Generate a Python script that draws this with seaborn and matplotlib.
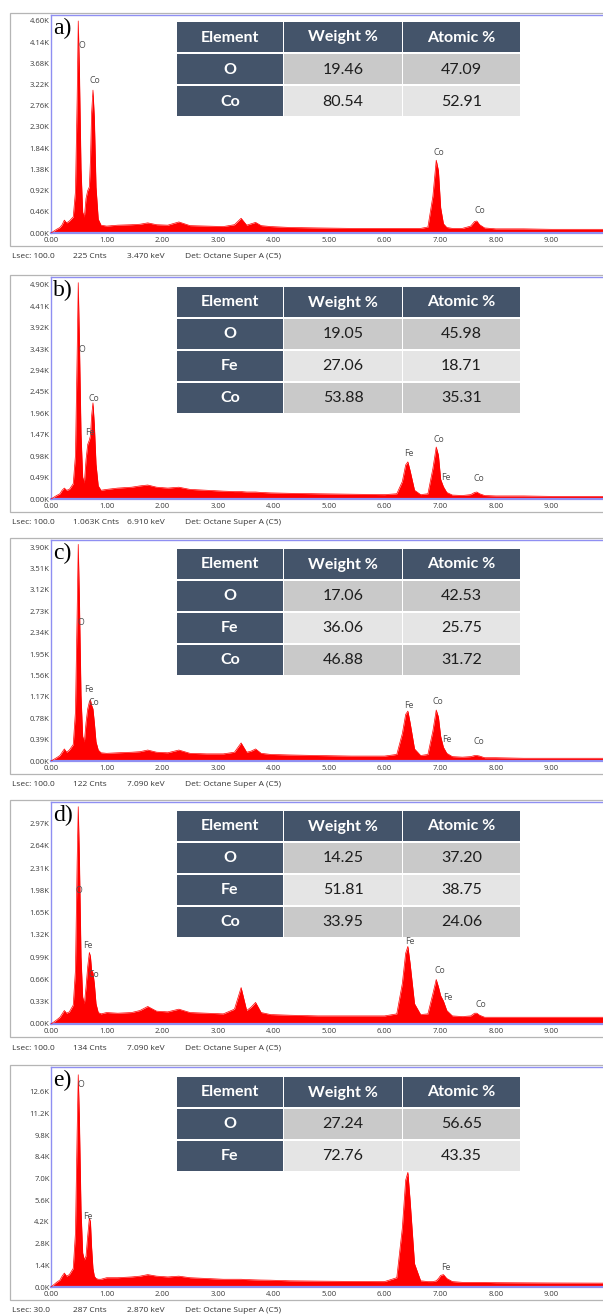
import numpy as np
import pandas as pd
import seaborn as sns
import matplotlib.pyplot as plt
from matplotlib.patches import Rectangle

# --- DATA ---
energy = [0.00, 0.10, 0.16, 0.20, 0.24, 0.28, 0.33, 0.40, 0.44, 0.47,
          0.49, 0.51, 0.54, 0.57, 0.60, 0.63, 0.66, 0.69, 0.71, 0.73,
          0.755, 0.78, 0.81, 0.85, 0.90, 1.00, 1.20, 1.45, 1.60, 1.74,
          1.90, 2.10, 2.30, 2.50, 2.80, 3.10, 3.30, 3.42, 3.52, 3.60,
          3.68, 3.78, 3.95, 4.30, 4.80, 5.40, 6.00, 6.22, 6.32, 6.38,
          6.42, 6.46, 6.54, 6.65, 6.78, 6.87, 6.93, 6.97, 7.01, 7.06,
          7.12, 7.22, 7.40, 7.55, 7.62, 7.66, 7.71, 7.80, 8.00, 8.50,
          9.00, 9.93]

# counts in K
counts_a = [0.00, 0.08, 0.12, 0.18, 0.28, 0.22, 0.26, 0.35, 0.90, 2.90,
            4.60, 3.60, 1.40, 0.45, 0.35, 0.75, 0.92, 1.00, 1.60, 2.60,
            3.10, 2.50, 1.00, 0.30, 0.17, 0.15, 0.17, 0.18, 0.19, 0.22,
            0.18, 0.17, 0.24, 0.16, 0.15, 0.14, 0.18, 0.32, 0.17, 0.20,
            0.23, 0.16, 0.14, 0.12, 0.11, 0.10, 0.10, 0.10, 0.10, 0.10,
            0.10, 0.10, 0.10, 0.10, 0.13, 0.80, 1.58, 1.35, 0.55, 0.20,
            0.12, 0.10, 0.10, 0.15, 0.25, 0.26, 0.18, 0.11, 0.09, 0.09,
            0.08, 0.08]
counts_b = [0.00, 0.08, 0.12, 0.20, 0.25, 0.20, 0.22, 0.35, 1.00, 3.30,
            4.95, 3.70, 1.50, 0.50, 0.37, 0.90, 1.25, 1.35, 1.45, 1.90,
            2.20, 1.70, 0.80, 0.30, 0.20, 0.22, 0.25, 0.27, 0.30, 0.32,
            0.27, 0.25, 0.27, 0.22, 0.20, 0.18, 0.17, 0.17, 0.16, 0.16,
            0.16, 0.15, 0.14, 0.13, 0.12, 0.11, 0.10, 0.12, 0.40, 0.78,
            0.85, 0.65, 0.20, 0.10, 0.12, 0.70, 1.19, 1.00, 0.45, 0.28,
            0.15, 0.09, 0.08, 0.10, 0.15, 0.16, 0.12, 0.08, 0.07, 0.07,
            0.06, 0.06]
counts_c = [0.00, 0.06, 0.10, 0.16, 0.22, 0.16, 0.20, 0.30, 0.90, 2.70,
            3.95, 3.00, 1.20, 0.45, 0.35, 0.70, 0.95, 1.08, 1.11, 1.02,
            0.95, 0.70, 0.35, 0.20, 0.15, 0.14, 0.15, 0.16, 0.17, 0.20,
            0.16, 0.15, 0.20, 0.14, 0.13, 0.13, 0.16, 0.33, 0.16, 0.18,
            0.22, 0.14, 0.12, 0.11, 0.10, 0.09, 0.09, 0.12, 0.50, 0.85,
            0.91, 0.70, 0.22, 0.10, 0.12, 0.55, 0.93, 0.80, 0.45, 0.25,
            0.14, 0.08, 0.07, 0.08, 0.10, 0.10, 0.09, 0.06, 0.06, 0.05,
            0.05, 0.05]
counts_d = [0.00, 0.06, 0.10, 0.15, 0.20, 0.16, 0.18, 0.28, 0.80, 2.40,
            3.22, 2.50, 1.00, 0.40, 0.30, 0.55, 0.85, 1.06, 1.00, 0.80,
            0.76, 0.60, 0.30, 0.17, 0.15, 0.17, 0.16, 0.17, 0.20, 0.26,
            0.19, 0.18, 0.22, 0.17, 0.16, 0.15, 0.22, 0.54, 0.20, 0.25,
            0.32, 0.17, 0.14, 0.13, 0.12, 0.12, 0.12, 0.15, 0.60, 1.05,
            1.15, 0.90, 0.30, 0.14, 0.15, 0.45, 0.66, 0.55, 0.42, 0.34,
            0.20, 0.12, 0.11, 0.12, 0.16, 0.16, 0.13, 0.10, 0.10, 0.10,
            0.10, 0.10]
counts_e = [0.00, 0.30, 0.45, 0.70, 0.90, 0.70, 0.80, 1.20, 3.50, 10.0,
            13.7, 11.0, 5.00, 2.20, 1.75, 2.00, 3.30, 4.45, 4.20, 2.60,
            1.20, 0.70, 0.55, 0.50, 0.50, 0.60, 0.60, 0.65, 0.70, 0.80,
            0.70, 0.65, 0.70, 0.60, 0.55, 0.50, 0.50, 0.50, 0.48, 0.47,
            0.46, 0.45, 0.44, 0.40, 0.38, 0.36, 0.35, 0.60, 3.80, 6.90,
            7.40, 5.60, 1.50, 0.40, 0.35, 0.35, 0.40, 0.55, 0.75, 0.80,
            0.55, 0.35, 0.30, 0.30, 0.30, 0.30, 0.30, 0.30, 0.28, 0.27,
            0.26, 0.25]

# peak labels: (energy, counts K, element)
peaks_a = [(0.55, 4.06, 'O'), (0.79, 3.30, 'Co'), (6.98, 1.74, 'Co'), (7.72, 0.48, 'Co')]
peaks_b = [(0.55, 3.41, 'O'), (0.78, 2.29, 'Co'), (0.70, 1.53, 'Fe'), (6.44, 1.03, 'Fe'),
           (6.98, 1.37, 'Co'), (7.10, 0.50, 'Fe'), (7.70, 0.48, 'Co')]
peaks_c = [(0.53, 2.53, 'O'), (0.68, 1.31, 'Fe'), (0.78, 1.06, 'Co'), (6.44, 1.02, 'Fe'),
           (6.96, 1.09, 'Co'), (7.12, 0.40, 'Fe'), (7.70, 0.36, 'Co')]
peaks_d = [(0.51, 1.98, 'O'), (0.67, 1.16, 'Fe'), (0.77, 0.73, 'Co'), (6.46, 1.22, 'Fe'),
           (7.00, 0.80, 'Co'), (7.14, 0.39, 'Fe'), (7.73, 0.29, 'Co')]
peaks_e = [(0.53, 13.05, 'O'), (0.67, 4.52, 'Fe'), (6.44, 7.80, 'Fe'), (7.10, 1.29, 'Fe')]

# composition tables
elements_a = ['O', 'Co']
weight_a = ['19.46', '80.54']
atomic_a = ['47.09', '52.91']
elements_b = ['O', 'Fe', 'Co']
weight_b = ['19.05', '27.06', '53.88']
atomic_b = ['45.98', '18.71', '35.31']
elements_c = ['O', 'Fe', 'Co']
weight_c = ['17.06', '36.06', '46.88']
atomic_c = ['42.53', '25.75', '31.72']
elements_d = ['O', 'Fe', 'Co']
weight_d = ['14.25', '51.81', '33.95']
atomic_d = ['37.20', '38.75', '24.06']
elements_e = ['O', 'Fe']
weight_e = ['27.24', '72.76']
atomic_e = ['56.65', '43.35']

# status bar texts
lsec = ['Lsec: 100.0', 'Lsec: 100.0', 'Lsec: 100.0', 'Lsec: 100.0', 'Lsec: 30.0']
cnts = ['225 Cnts', '1.063K Cnts', '122 Cnts', '134 Cnts', '287 Cnts']
kev = ['3.470 keV', '6.910 keV', '7.090 keV', '7.090 keV', '2.870 keV']
det = 'Det: Octane Super A (C5)'
letters = ['a)', 'b)', 'c)', 'd)', 'e)']
headers = ['Element', 'Weight %', 'Atomic %']

# --- LAYOUT (pixels) ---
W, H = 603, 1315
ax_top = [15, 277, 540, 802, 1067]
ax_bot = [233, 499, 761, 1024, 1287]
tab_top = [22, 287, 549, 811, 1077]
ymax = [4.73, 5.08, 4.03, 3.29, 14.2]
ystep = [0.46, 0.49, 0.39, 0.33, 1.4]
nstep = [10, 10, 10, 9, 9]
ydec = [2, 2, 2, 2, 1]
col_x = [177, 284, 403]
col_w = [106, 118, 117]

def fx(x):
    return x / W

def fy(y):
    return 1 - y / H

sns.set_theme(style='white')
plt.rcParams['font.family'] = ['Open Sans', 'DejaVu Sans']

fig = plt.figure(figsize=(W / 100, H / 100), dpi=100)

spectra = [counts_a, counts_b, counts_c, counts_d, counts_e]
peak_lists = [peaks_a, peaks_b, peaks_c, peaks_d, peaks_e]
tables = [(elements_a, weight_a, atomic_a), (elements_b, weight_b, atomic_b),
          (elements_c, weight_c, atomic_c), (elements_d, weight_d, atomic_d),
          (elements_e, weight_e, atomic_e)]

blue = '#8F8FF2'
dark = '#44546A'

for i in range(5):
    top, bot = ax_top[i], ax_bot[i]

    # grey outer frame of the software window
    fig.add_artist(Rectangle((fx(10), fy(bot + 13)), fx(620 - 10), (bot + 13 - top + 2) / H,
                             transform=fig.transFigure, facecolor='white',
                             edgecolor='#B5B5B5', lw=0.9, zorder=-1))

    ax = fig.add_axes([fx(51), fy(bot), fx(603 - 51), (bot - top) / H])
    ax.set_facecolor('white')
    df = pd.DataFrame({'keV': energy, 'counts': spectra[i]})
    ax.fill_between(df['keV'], 0, df['counts'], color='#FF0000', lw=0, zorder=2)
    sns.lineplot(data=df, x='keV', y='counts', color='#FF0000', lw=0.5, ax=ax, zorder=3)

    ax.set_xlim(0, 9.93)
    ax.set_ylim(0, ymax[i])
    ax.set_xlabel('')
    ax.set_ylabel('')
    ax.set_xticks(np.arange(0, 10))
    ax.set_xticklabels(['%.2f' % v for v in range(10)])
    yt = [round(k * ystep[i], 2) for k in range(nstep[i] + 1)]
    ax.set_yticks(yt)
    ax.set_yticklabels([f'{v:.{ydec[i]}f}K' for v in yt])
    ax.tick_params(axis='both', length=0, labelsize=5.5, labelcolor='#3A3A3A')
    ax.tick_params(axis='y', pad=1.0)
    ax.tick_params(axis='x', pad=3)
    for s in ['left', 'top', 'bottom']:
        ax.spines[s].set_color(blue)
        ax.spines[s].set_linewidth(1.0)
    ax.spines['bottom'].set_linewidth(1.6)
    ax.spines['right'].set_visible(False)
    ax.grid(False)

    for e, c, name in peak_lists[i]:
        ax.text(e, c, name, ha='center', va='center', fontsize=6.3, color='#505050', zorder=4)

    ax.text(0.004, 1.0 - 3 / (bot - top), letters[i], transform=ax.transAxes,
            ha='left', va='top', fontsize=17, family='Liberation Serif', color='black', zorder=6)

    # composition table
    els, wts, ats = tables[i]
    rows = [headers] + [[els[r], wts[r], ats[r]] for r in range(len(els))]
    for r, row in enumerate(rows):
        ytop = tab_top[i] + r * 32
        for c, txt in enumerate(row):
            if r == 0 or c == 0:
                fc, tc, fw = dark, 'white', 'bold'
            else:
                fc = '#C9C9C9' if r % 2 == 1 else '#E5E5E5'
                tc, fw = '#1E1E1E', 'normal'
            fig.add_artist(Rectangle((fx(col_x[c]), fy(ytop + 30)), fx(col_w[c]), 30 / H,
                                     transform=fig.transFigure, facecolor=fc,
                                     edgecolor='none', zorder=5))
            fig.text(fx(col_x[c] + col_w[c] / 2), fy(ytop + 15.5), txt, ha='center', va='center',
                     fontsize=11.5, color=tc, fontweight=fw, family=['Lato', 'DejaVu Sans'], zorder=7)

    # status line
    ys = fy(bot + 24)
    for x, txt in zip([12, 73, 127, 185], [lsec[i], cnts[i], kev[i], det]):
        fig.text(fx(x), ys, txt, ha='left', va='center', fontsize=6, color='#333333')

plt.savefig('out.png', dpi=100)
